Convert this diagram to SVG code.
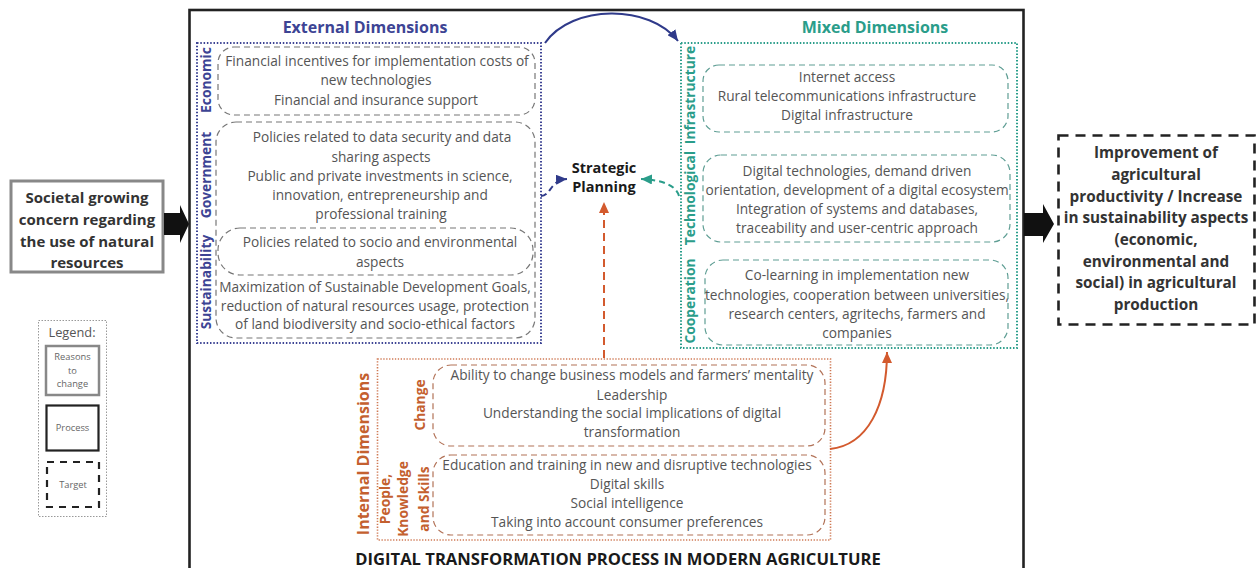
<svg xmlns="http://www.w3.org/2000/svg" width="1259" height="568" viewBox="0 0 1259 568">
<style>
.t{font-family:"Open Sans","Liberation Sans",sans-serif;font-size:13.7px;fill:#555;text-anchor:middle}
.b{font-family:"Open Sans","Liberation Sans",sans-serif;font-weight:bold;text-anchor:middle}
.bk{font-size:15px;fill:#333}
.bkr{font-size:15.3px;fill:#333}
.blue{fill:#3d4494}
.teal{fill:#2a9d8a}
.orng{fill:#c4602f}
.vl{font-size:13.8px}
.lg{font-family:"Open Sans","Liberation Sans",sans-serif;font-size:9.3px;fill:#666;text-anchor:middle}
.dotB{fill:none;stroke:#3d4494;stroke-width:2;stroke-dasharray:1.5 1.8}
.dotT{fill:none;stroke:#2a9d8a;stroke-width:2;stroke-dasharray:1.5 1.8}
.dotO{fill:none;stroke:#cf7a55;stroke-width:1.6;stroke-dasharray:1.3 1.6}
.dashG{fill:none;stroke:#777;stroke-width:1.2;stroke-dasharray:6 4}
.dashT{fill:none;stroke:#5f9e94;stroke-width:1.2;stroke-dasharray:6 4}
.dashO{fill:none;stroke:#b27257;stroke-width:1.2;stroke-dasharray:6 4}
</style>
<defs>
<marker id="mB" markerUnits="userSpaceOnUse" markerWidth="12" markerHeight="10" refX="11" refY="5" orient="auto"><path d="M0,0 L11,5 L0,10 z" fill="#2f3a8a"/></marker>
<marker id="mT" markerUnits="userSpaceOnUse" markerWidth="12" markerHeight="10" refX="11" refY="5" orient="auto"><path d="M0,0 L11,5 L0,10 z" fill="#2a9d8a"/></marker>
<marker id="mO" markerUnits="userSpaceOnUse" markerWidth="12" markerHeight="10" refX="11" refY="5" orient="auto"><path d="M0,0 L11,5 L0,10 z" fill="#d35a2e"/></marker>
</defs>
<rect width="1259" height="568" fill="#fff"/>

<g id="process">
<rect x="189.5" y="10" width="834" height="580" fill="none" stroke="#222" stroke-width="2.6"/>
<text class="b" x="618" y="565" font-size="16.6" fill="#1a1a1a">DIGITAL TRANSFORMATION PROCESS IN MODERN AGRICULTURE</text>
</g>

<g id="reasons">
<rect x="11" y="181" width="152" height="91" fill="#fff" stroke="#888" stroke-width="3"/>
<text class="b bk" x="87" y="203">Societal growing</text>
<text class="b bk" x="87" y="225">concern regarding</text>
<text class="b bk" x="87" y="247">the use of natural</text>
<text class="b bk" x="87" y="268">resources</text>
</g>

<g id="target">
<rect x="1058.5" y="135.5" width="196" height="189" fill="#fff" stroke="#222" stroke-width="2.6" stroke-dasharray="10 7"/>
<text class="b bkr" x="1156" y="158">Improvement of</text>
<text class="b bkr" x="1156" y="180">agricultural</text>
<text class="b bkr" x="1156" y="202">productivity / Increase</text>
<text class="b bkr" x="1156" y="223">in sustainability aspects</text>
<text class="b bkr" x="1156" y="245">(economic,</text>
<text class="b bkr" x="1156" y="267">environmental and</text>
<text class="b bkr" x="1156" y="288">social) in agricultural</text>
<text class="b bkr" x="1156" y="310">production</text>
</g>

<g id="legend">
<rect x="38.5" y="320.5" width="68" height="196" fill="none" stroke="#999" stroke-width="1" stroke-dasharray="1.5 1.5"/>
<text class="t" x="72" y="337" fill="#666" style="font-size:12.8px">Legend:</text>
<rect x="46" y="346" width="53" height="49" fill="none" stroke="#888" stroke-width="2.5"/>
<text class="lg" x="72.5" y="360">Reasons</text>
<text class="lg" x="72.5" y="373.5">to</text>
<text class="lg" x="72.5" y="387">change</text>
<rect x="46.5" y="405.5" width="52" height="45" fill="none" stroke="#222" stroke-width="2.2"/>
<text class="lg" x="72.5" y="431">Process</text>
<rect x="47" y="462" width="52" height="45" fill="none" stroke="#222" stroke-width="2.2" stroke-dasharray="7 6"/>
<text class="lg" x="73" y="488">Target</text>
</g>

<g id="external">
<text class="b blue" x="365" y="33" font-size="16">External Dimensions</text>
<rect x="197" y="43" width="344" height="300" class="dotB"/>
<text class="b blue vl" transform="translate(211,80) rotate(-90)">Economic</text>
<text class="b blue vl" transform="translate(211,175) rotate(-90)">Government</text>
<text class="b blue vl" transform="translate(211,282) rotate(-90)">Sustainability</text>
<rect x="218" y="47" width="317" height="68" rx="16" class="dashG"/>
<text class="t" x="377" y="66">Financial incentives for implementation costs of</text>
<text class="t" x="376" y="85">new technologies</text>
<text class="t" x="376" y="105">Financial and insurance support</text>
<rect x="216" y="122" width="319" height="216" rx="20" class="dashG"/>
<text class="t" x="382" y="142">Policies related to data security and data</text>
<text class="t" x="381" y="162">sharing aspects</text>
<text class="t" x="380" y="181">Public and private investments in science,</text>
<text class="t" x="380" y="200">innovation, entrepreneurship and</text>
<text class="t" x="381" y="219">professional training</text>
<rect x="218" y="228" width="315" height="47" rx="22" class="dashG"/>
<text class="t" x="380" y="247">Policies related to socio and environmental</text>
<text class="t" x="380" y="267">aspects</text>
<text class="t" x="375" y="292">Maximization of Sustainable Development Goals,</text>
<text class="t" x="375" y="311">reduction of natural resources usage, protection</text>
<text class="t" x="375" y="329">of land biodiversity and socio-ethical factors</text>
</g>

<g id="mixed">
<text class="b teal" x="875" y="33" font-size="16">Mixed Dimensions</text>
<rect x="681" y="43" width="336" height="305" class="dotT"/>
<text class="b teal vl" transform="translate(695,95) rotate(-90)">Infrastructure</text>
<text class="b teal vl" transform="translate(695,198) rotate(-90)">Technological</text>
<text class="b teal vl" transform="translate(695,301) rotate(-90)">Cooperation</text>
<rect x="703" y="65" width="305" height="67" rx="16" class="dashT"/>
<text class="t" x="847" y="82">Internet access</text>
<text class="t" x="847" y="101">Rural telecommunications infrastructure</text>
<text class="t" x="847" y="120">Digital infrastructure</text>
<rect x="703" y="155" width="307" height="87" rx="18" class="dashT"/>
<text class="t" x="857" y="176">Digital technologies, demand driven</text>
<text class="t" x="857" y="195">orientation, development of a digital ecosystem</text>
<text class="t" x="857" y="214">Integration of systems and databases,</text>
<text class="t" x="857" y="233">traceability and user-centric approach</text>
<rect x="705" y="260" width="303" height="85" rx="18" class="dashT"/>
<text class="t" x="857" y="280">Co-learning in implementation new</text>
<text class="t" x="857" y="300">technologies, cooperation between universities,</text>
<text class="t" x="857" y="319">research centers, agritechs, farmers and</text>
<text class="t" x="857" y="338">companies</text>
</g>

<g id="strategic">
<text class="b" x="604" y="173" font-size="14.5" fill="#1a1a1a">Strategic</text>
<text class="b" x="604" y="192" font-size="14.5" fill="#1a1a1a">Planning</text>
</g>

<g id="internal">
<rect x="377.5" y="359" width="453" height="181" class="dotO"/>
<text class="b orng" font-size="16" transform="translate(369,454) rotate(-90)">Internal Dimensions</text>
<text class="b orng vl" transform="translate(425,405) rotate(-90)">Change</text>
<text class="b orng vl" transform="translate(390,499) rotate(-90)">People,</text>
<text class="b orng vl" transform="translate(408,499) rotate(-90)">Knowledge</text>
<text class="b orng vl" transform="translate(429,499) rotate(-90)">and Skills</text>
<rect x="433" y="365" width="392" height="81" rx="18" class="dashO"/>
<text class="t" x="632" y="380">Ability to change business models and farmers’ mentality</text>
<text class="t" x="632" y="400">Leadership</text>
<text class="t" x="632" y="418">Understanding the social implications of digital</text>
<text class="t" x="632" y="437">transformation</text>
<rect x="433" y="455" width="392" height="80" rx="18" class="dashO"/>
<text class="t" x="627" y="470">Education and training in new and disruptive technologies</text>
<text class="t" x="627" y="489">Digital skills</text>
<text class="t" x="627" y="508">Social intelligence</text>
<text class="t" x="627" y="527">Taking into account consumer preferences</text>
</g>

<g id="connectors">
<polygon points="164,213 180,213 180,205 189,224 180,243 180,235 164,235" fill="#111"/>
<polygon points="1024,213 1043,213 1043,204 1054,224 1043,243 1043,236 1024,236" fill="#111"/>
<path d="M545,43 C572,4 650,4 678,41" fill="none" stroke="#2f3a8a" stroke-width="2" marker-end="url(#mB)"/>
<path d="M541,196 C551,196 550,180 567,179" fill="none" stroke="#2f3a8a" stroke-width="2" stroke-dasharray="6 4" marker-end="url(#mB)"/>
<path d="M679,196 C676,186 664,180 641,179" fill="none" stroke="#2a9d8a" stroke-width="2" stroke-dasharray="6 4" marker-end="url(#mT)"/>
<path d="M604,358 L604,202" fill="none" stroke="#d35a2e" stroke-width="2" stroke-dasharray="8 5" marker-end="url(#mO)"/>
<path d="M830,449 C868,445 887,405 887,352" fill="none" stroke="#d35a2e" stroke-width="2" marker-end="url(#mO)"/>
</g>
</svg>
